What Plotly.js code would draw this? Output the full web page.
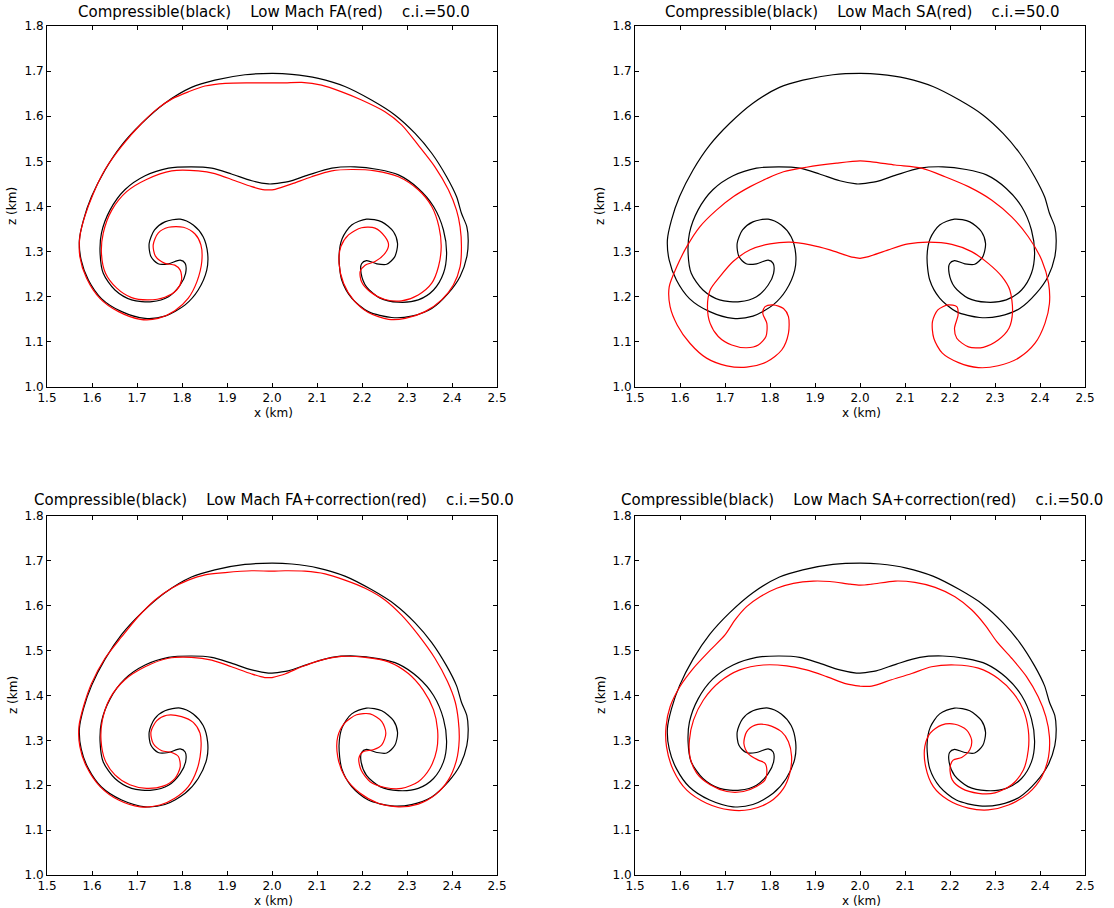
<!DOCTYPE html>
<html><head><meta charset="utf-8">
<script src="https://cdn.plot.ly/plotly-3.0.1.min.js"></script>
<style>html,body{margin:0;padding:0;background:#fff}</style>
</head><body><div id="chart" style="width:1114px;height:908px"></div>
<script>
// Compressible (black) contour, left half (top -> outer -> lobe -> spiral -> inner arc -> centre)
var compLeftX = [2.0,1.94,1.873,1.821,1.762,1.710,1.666,1.629,1.599,1.581,1.572,1.576,1.592,1.621,1.666,1.718,1.762,1.807,1.836,1.855,1.857,1.847,1.825,1.796,1.762,1.739,1.727,1.731,1.747,1.770,1.796,1.807,1.808,1.796,1.770,1.733,1.688,1.651,1.625,1.618,1.621,1.640,1.673,1.718,1.770,1.821,1.866,1.910,1.955,1.992,2.0];
var compLeftZ = [1.695,1.692,1.680,1.664,1.629,1.584,1.536,1.481,1.422,1.370,1.326,1.281,1.237,1.196,1.167,1.152,1.157,1.182,1.215,1.259,1.296,1.333,1.359,1.372,1.366,1.348,1.318,1.289,1.273,1.273,1.281,1.274,1.252,1.226,1.200,1.189,1.193,1.215,1.252,1.296,1.341,1.392,1.437,1.468,1.485,1.488,1.485,1.472,1.457,1.450,1.450];
var compRightX = [2.0,2.044,2.103,2.162,2.221,2.273,2.318,2.355,2.388,2.410,2.421,2.433,2.436,2.433,2.418,2.392,2.355,2.310,2.266,2.214,2.177,2.155,2.149,2.156,2.177,2.210,2.244,2.270,2.279,2.273,2.255,2.233,2.210,2.199,2.198,2.210,2.240,2.281,2.325,2.359,2.381,2.388,2.381,2.359,2.325,2.281,2.236,2.184,2.133,2.081,2.036,2.0];
var compRightZ = [1.695,1.693,1.684,1.666,1.636,1.603,1.562,1.518,1.466,1.422,1.385,1.355,1.326,1.289,1.245,1.208,1.174,1.157,1.154,1.167,1.197,1.237,1.289,1.329,1.359,1.372,1.366,1.344,1.318,1.289,1.272,1.273,1.280,1.273,1.252,1.222,1.197,1.188,1.193,1.215,1.252,1.296,1.348,1.400,1.440,1.470,1.482,1.488,1.485,1.470,1.455,1.450];

// Low Mach FA (red)
var faLeftX = [2.0,1.955,1.896,1.851,1.814,1.777,1.747,1.710,1.666,1.629,1.603,1.584,1.573,1.573,1.588,1.618,1.659,1.707,1.747,1.784,1.814,1.833,1.844,1.842,1.829,1.803,1.770,1.747,1.736,1.741,1.762,1.784,1.796,1.799,1.788,1.762,1.725,1.688,1.655,1.630,1.621,1.625,1.644,1.677,1.721,1.777,1.836,1.873,1.918,1.955,1.984,2.0];
var faLeftZ = [1.674,1.674,1.673,1.667,1.654,1.638,1.618,1.584,1.534,1.482,1.429,1.378,1.333,1.289,1.241,1.196,1.167,1.150,1.152,1.169,1.197,1.233,1.278,1.315,1.339,1.354,1.354,1.341,1.315,1.290,1.274,1.270,1.259,1.237,1.215,1.199,1.193,1.198,1.219,1.252,1.296,1.341,1.392,1.433,1.460,1.479,1.479,1.473,1.457,1.444,1.437,1.437];
var faRightX = [2.0,2.029,2.066,2.110,2.155,2.199,2.251,2.288,2.325,2.362,2.392,2.410,2.418,2.421,2.418,2.403,2.377,2.340,2.296,2.259,2.214,2.181,2.159,2.149,2.153,2.170,2.199,2.229,2.251,2.259,2.251,2.229,2.207,2.196,2.199,2.218,2.251,2.288,2.325,2.355,2.370,2.376,2.371,2.355,2.325,2.281,2.229,2.177,2.133,2.088,2.044,2.007,2.0];
var faRightZ = [1.674,1.674,1.675,1.669,1.654,1.636,1.610,1.581,1.536,1.488,1.437,1.392,1.355,1.311,1.267,1.226,1.193,1.167,1.152,1.150,1.165,1.193,1.230,1.274,1.311,1.337,1.353,1.352,1.333,1.315,1.296,1.278,1.270,1.256,1.233,1.211,1.194,1.191,1.204,1.230,1.267,1.311,1.355,1.400,1.437,1.466,1.479,1.482,1.479,1.466,1.450,1.438,1.437];

// Low Mach SA (red)
var saLeftX = [2.0,1.948,1.881,1.830,1.793,1.756,1.719,1.681,1.644,1.615,1.593,1.576,1.578,1.594,1.622,1.659,1.704,1.748,1.793,1.826,1.841,1.841,1.830,1.807,1.789,1.784,1.793,1.791,1.774,1.748,1.715,1.685,1.667,1.661,1.667,1.689,1.718,1.756,1.800,1.844,1.889,1.933,1.978,2.0];
var saLeftZ = [1.501,1.496,1.487,1.477,1.462,1.444,1.422,1.392,1.355,1.311,1.267,1.222,1.178,1.137,1.097,1.064,1.047,1.044,1.056,1.082,1.119,1.156,1.174,1.182,1.178,1.163,1.141,1.112,1.093,1.087,1.093,1.112,1.141,1.178,1.215,1.245,1.278,1.304,1.317,1.321,1.315,1.304,1.289,1.285];
var saRightX = [2.0,2.026,2.078,2.137,2.189,2.241,2.293,2.337,2.374,2.404,2.419,2.421,2.411,2.389,2.352,2.307,2.263,2.219,2.183,2.164,2.161,2.173,2.196,2.215,2.218,2.210,2.215,2.241,2.274,2.307,2.331,2.339,2.333,2.315,2.285,2.248,2.204,2.152,2.107,2.063,2.019,2.0];
var saRightZ = [1.501,1.499,1.492,1.485,1.466,1.444,1.414,1.377,1.333,1.281,1.230,1.185,1.141,1.097,1.064,1.047,1.043,1.054,1.075,1.108,1.145,1.171,1.182,1.178,1.160,1.130,1.108,1.089,1.088,1.104,1.130,1.167,1.215,1.245,1.274,1.300,1.316,1.321,1.317,1.304,1.289,1.285];

// Low Mach FA+correction (red)
var facLeftX = [2.0,1.955,1.896,1.851,1.814,1.777,1.740,1.703,1.666,1.629,1.599,1.581,1.571,1.573,1.588,1.618,1.659,1.707,1.751,1.784,1.814,1.833,1.842,1.840,1.825,1.799,1.766,1.744,1.731,1.736,1.755,1.777,1.792,1.796,1.784,1.758,1.721,1.684,1.651,1.629,1.620,1.623,1.640,1.673,1.718,1.770,1.821,1.866,1.910,1.955,1.984,2.0];
var facLeftZ = [1.677,1.678,1.674,1.669,1.657,1.639,1.613,1.576,1.531,1.483,1.427,1.375,1.331,1.286,1.241,1.197,1.167,1.152,1.156,1.171,1.197,1.234,1.279,1.316,1.340,1.353,1.356,1.344,1.319,1.293,1.277,1.273,1.264,1.241,1.215,1.198,1.193,1.201,1.223,1.256,1.301,1.345,1.394,1.435,1.464,1.483,1.485,1.479,1.464,1.448,1.440,1.440];
var facRightX = [2.0,2.029,2.073,2.118,2.162,2.207,2.251,2.288,2.325,2.362,2.390,2.407,2.414,2.416,2.410,2.392,2.362,2.325,2.281,2.236,2.196,2.162,2.146,2.146,2.161,2.188,2.218,2.244,2.253,2.244,2.225,2.203,2.193,2.198,2.218,2.251,2.288,2.325,2.351,2.366,2.368,2.359,2.336,2.303,2.259,2.207,2.155,2.110,2.066,2.029,2.0];
var facRightZ = [1.677,1.678,1.677,1.671,1.657,1.639,1.613,1.579,1.535,1.483,1.431,1.386,1.345,1.301,1.256,1.212,1.178,1.158,1.152,1.160,1.182,1.219,1.264,1.308,1.338,1.357,1.359,1.342,1.316,1.290,1.279,1.275,1.260,1.234,1.208,1.195,1.193,1.208,1.238,1.279,1.323,1.368,1.412,1.449,1.475,1.485,1.487,1.479,1.464,1.448,1.440];

// Low Mach SA+correction (red)
var sacLeftX = [2.0,1.978,1.933,1.896,1.852,1.815,1.778,1.748,1.722,1.700,1.667,1.630,1.600,1.578,1.569,1.570,1.585,1.615,1.659,1.711,1.756,1.800,1.830,1.844,1.848,1.841,1.826,1.796,1.767,1.748,1.742,1.752,1.774,1.789,1.793,1.789,1.770,1.741,1.704,1.667,1.637,1.622,1.621,1.630,1.652,1.689,1.733,1.785,1.837,1.881,1.926,1.970,2.0];
var sacLeftZ = [1.646,1.648,1.654,1.655,1.650,1.639,1.620,1.598,1.568,1.535,1.501,1.461,1.420,1.375,1.331,1.286,1.234,1.189,1.160,1.145,1.146,1.163,1.193,1.227,1.264,1.297,1.319,1.334,1.334,1.319,1.293,1.270,1.256,1.249,1.227,1.212,1.197,1.186,1.186,1.201,1.227,1.264,1.301,1.345,1.390,1.431,1.457,1.468,1.466,1.457,1.442,1.426,1.421];
var sacRightX = [2.0,2.026,2.078,2.122,2.167,2.211,2.248,2.278,2.304,2.337,2.370,2.396,2.413,2.421,2.419,2.404,2.374,2.330,2.285,2.241,2.196,2.163,2.146,2.144,2.156,2.181,2.211,2.237,2.248,2.244,2.226,2.207,2.200,2.205,2.226,2.263,2.300,2.337,2.363,2.374,2.374,2.363,2.341,2.307,2.263,2.211,2.159,2.115,2.070,2.026,2.0];
var sacRightZ = [1.646,1.648,1.655,1.652,1.641,1.620,1.591,1.557,1.520,1.483,1.442,1.397,1.353,1.308,1.264,1.219,1.182,1.156,1.145,1.149,1.167,1.197,1.241,1.286,1.316,1.334,1.336,1.323,1.301,1.279,1.262,1.256,1.238,1.212,1.193,1.182,1.183,1.201,1.234,1.279,1.323,1.368,1.405,1.438,1.461,1.468,1.464,1.449,1.435,1.421,1.421];

var panelTitles = [
  'Compressible(black)    Low Mach FA(red)    c.i.=50.0',
  'Compressible(black)    Low Mach SA(red)    c.i.=50.0',
  'Compressible(black)    Low Mach FA+correction(red)    c.i.=50.0',
  'Compressible(black)    Low Mach SA+correction(red)    c.i.=50.0'
];
var xTicks = [1.5,1.6,1.7,1.8,1.9,2.0,2.1,2.2,2.3,2.4,2.5];
var zTicks = [1.0,1.1,1.2,1.3,1.4,1.5,1.6,1.7,1.8];

function loop(l, r) { return l.concat(r.slice().reverse()); }

var reds = [
  [faLeftX, faRightX, faLeftZ, faRightZ],
  [saLeftX, saRightX, saLeftZ, saRightZ],
  [facLeftX, facRightX, facLeftZ, facRightZ],
  [sacLeftX, sacRightX, sacLeftZ, sacRightZ]
];

var W = 1114, H = 908;
var FONT = 'DejaVu Sans, Liberation Sans, sans-serif';
// panel pixel boxes [x0, x1, yTop, yBottom]
var boxes = [[47,497,26,387],[635,1085,26,387],[47,497,516,875],[635,1085,516,875]];

var traces = [];
var layout = {
  width: W, height: H, margin: {l:0, r:0, t:0, b:0},
  paper_bgcolor: '#fff', plot_bgcolor: '#fff', showlegend: false,
  annotations: []
};

boxes.forEach(function(b, i) {
  var n = i + 1;
  var xs = n === 1 ? 'x' : 'x' + n, ys = n === 1 ? 'y' : 'y' + n;
  traces.push({x: loop(compLeftX, compRightX), y: loop(compLeftZ, compRightZ), xaxis: xs, yaxis: ys,
    mode: 'lines', line: {color: '#000000', width: 1.2, shape: 'spline', smoothing: 0.8}, hoverinfo: 'skip'});
  var r = reds[i];
  traces.push({x: loop(r[0], r[1]), y: loop(r[2], r[3]), xaxis: xs, yaxis: ys,
    mode: 'lines', line: {color: '#ff0000', width: 1.2, shape: 'spline', smoothing: 0.8}, hoverinfo: 'skip'});

  var common = {ticks: 'inside', ticklen: 4, tickcolor: '#000', tickwidth: 1,
    showline: true, linecolor: '#000', linewidth: 1, mirror: 'ticks',
    showgrid: false, zeroline: false, fixedrange: true,
    tickfont: {family: FONT, size: 12, color: '#000'}};
  var xa = Object.assign({}, common, {domain: [b[0]/W, b[1]/W], anchor: ys, range: [1.5, 2.5],
    tickmode: 'array', tickvals: xTicks, ticktext: xTicks.map(function(v){return v.toFixed(1);})});
  var ya = Object.assign({}, common, {domain: [1 - b[3]/H, 1 - b[2]/H], anchor: xs, range: [1.0, 1.8],
    tickmode: 'array', tickvals: zTicks, ticktext: zTicks.map(function(v){return v.toFixed(1);})});
  layout[n === 1 ? 'xaxis' : 'xaxis' + n] = xa;
  layout[n === 1 ? 'yaxis' : 'yaxis' + n] = ya;

  var cx = (b[0] + b[1]) / 2;
  var titleOffset = n <= 2 ? 13.5 : 16;
  layout.annotations.push({text: panelTitles[i].replace(/ /g, '\u00a0'), xref: 'paper', yref: 'paper',
    x: (cx + 2) / W, y: 1 - (b[2] - titleOffset) / H, xanchor: 'center', yanchor: 'middle', showarrow: false,
    font: {family: FONT, size: 15, color: '#000'}});
  layout.annotations.push({text: 'x (km)', xref: 'paper', yref: 'paper',
    x: (cx + 1) / W, y: 1 - (b[3] + 26) / H, xanchor: 'center', yanchor: 'middle', showarrow: false,
    font: {family: FONT, size: 12, color: '#000'}});
  layout.annotations.push({text: 'z (km)', xref: 'paper', yref: 'paper', textangle: -90,
    x: (b[0] - 34.5) / W, y: 1 - ((b[2] + b[3]) / 2) / H, xanchor: 'center', yanchor: 'middle', showarrow: false,
    font: {family: FONT, size: 12, color: '#000'}});
});

Plotly.newPlot('chart', traces, layout, {staticPlot: true, displayModeBar: false});
</script>
</body></html>
